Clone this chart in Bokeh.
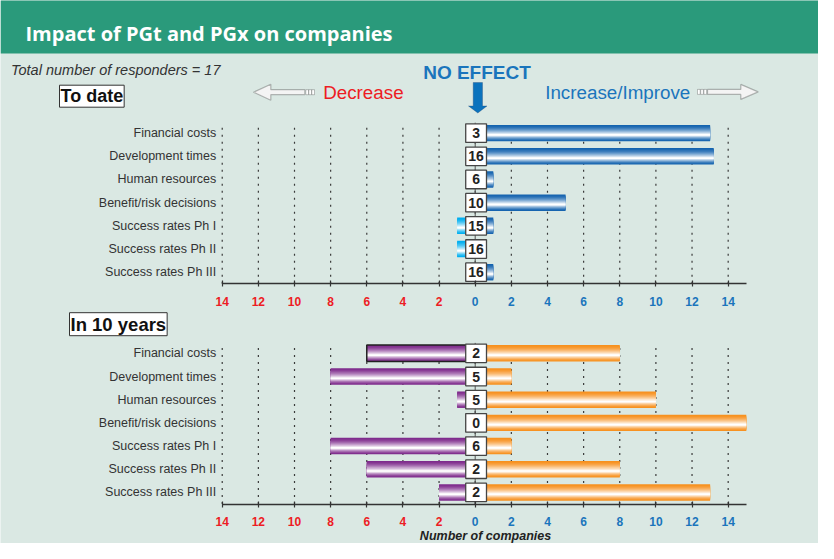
from bokeh.plotting import figure
from bokeh.models import (Range1d, FixedTicker, Label, ColumnDataSource, PolyAnnotation,
                          LinearAxis)
from bokeh.core.properties import value
from bokeh.embed import file_html
from bokeh.resources import INLINE

# ---------------- data ----------------
title = "Impact of PGt and PGx on companies"
responders = 17
categories = ["Financial costs", "Development times", "Human resources",
              "Benefit/risk decisions", "Success rates Ph I", "Success rates Ph II",
              "Success rates Ph III"]
to_date_decrease = [0, 0, 0, 0, -1, -1, 0]
to_date_increase = [13, 13.2, 1, 5, 1, 0, 1]
to_date_no_effect = [3, 16, 6, 10, 15, 16, 16]
in_10_years_decrease = [-6, -8, -1, 0, -8, -6, -2]
in_10_years_increase = [8, 2, 10, 15, 2, 8, 13]
in_10_years_no_effect = [2, 5, 5, 0, 6, 2, 2]
tick_values = [-14, -12, -10, -8, -6, -4, -2, 0, 2, 4, 6, 8, 10, 12, 14]
x_start, x_end = -14, 15

# ---------------- style / geometry ----------------
W, H = 818, 543
S = 18.07          # px per x unit
X0 = 474.7         # px position of x = 0
P = 23.18          # px per row
REF_BOTTOM = 551   # reference-image y of the figure's bottom edge
GREEN = "#2a9a7b"
BG = "#dae8e3"
TXT_BLUE = "#1a75bc"
TXT_RED = "#ed1c24"
DARK = "#333333"
FONT = "Liberation Sans"
NROW = len(categories)
rows = [NROW - i for i in range(NROW)]          # bottom panel rows (7 .. 1)
PANEL_SHIFT = 9.5                               # top panel rows sit 9.5 rows higher
y_lo = 0.5 - 39.5 / P


def sy(ref_y):
    return REF_BOTTOM - ref_y


def mix(c1, c2, t):
    a = [int(c1[i:i + 2], 16) for i in (1, 3, 5)]
    b = [int(c2[i:i + 2], 16) for i in (1, 3, 5)]
    return "#%02x%02x%02x" % tuple(round(x + (y - x) * t) for x, y in zip(a, b))


p = figure(width=W, height=H, x_range=Range1d(-X0 / S, (W - X0) / S),
           y_range=Range1d(y_lo, y_lo + H / P), toolbar_location=None,
           output_backend="svg", min_border=0, min_border_left=0, min_border_right=0,
           min_border_top=0, min_border_bottom=0)
p.background_fill_color = BG
p.border_fill_color = BG
p.outline_line_color = None
p.xgrid.visible = False
p.ygrid.visible = False

# header band (decoration)
p.add_layout(PolyAnnotation(xs=[0, W, W, 0], ys=[H - 53, H - 53, H + 1, H + 1],
                            xs_units="screen", ys_units="screen", fill_color=GREEN,
                            fill_alpha=1, line_color=None))
p.add_layout(Label(x=25, y=H - 33, x_units="screen", y_units="screen", text=title,
                   text_color="white", text_font="Open Sans", text_font_style="bold",
                   text_font_size="20px", text_baseline="middle"))


def gradient_hbars(ys, values, edge, Hb=0.71, N=10):
    for k in range(N):
        f = k / N
        a, b = 0.62 * f, 0.38 * f
        off = (b - a) / 2 * Hb
        t = (k / (N - 1)) ** 1.5
        src = ColumnDataSource(dict(y=[r + off for r in ys], v=values))
        p.hbar(y="y", left=0, right="v", height=Hb * (1 - f),
               fill_color=mix(edge, "#ffffff", t), line_color=None, source=src)


def boxes(ys, counts):
    src = ColumnDataSource(dict(y=ys, n=[str(c) for c in counts]))
    p.rect(x=0.05, y="y", width=1.15, height=0.8, fill_color="white",
           line_color="#454545", line_width=1.3, source=src)
    p.text(x=0.05, y="y", text="n", text_align="center", text_baseline="middle",
           text_font=value(FONT), text_font_style="bold", text_font_size="14px",
           text_color="#222222", source=src)


def panel(ys, xaxis, yaxis, decrease, increase, no_effect, dec_color, inc_color,
          outline_first=False):
    lo, hi = min(ys) - 0.5, max(ys) + 0.5
    n = len(tick_values)
    p.segment(x0=tick_values, y0=[lo] * n, x1=tick_values, y1=[hi - 0.05] * n,
              line_color="#3a3a3a", line_dash="2 5", line_width=1.2)
    p.segment(x0=[0], y0=[lo], x1=[0], y1=[hi - 0.05], line_color="#555555", line_width=1)

    gradient_hbars(ys, decrease, dec_color)
    gradient_hbars(ys, increase, inc_color)
    if outline_first:
        src = ColumnDataSource(dict(y=ys[:1], v=decrease[:1]))
        p.hbar(y="y", left=0, right="v", height=0.71, fill_color=None,
               line_color="#222222", line_width=1.5, source=src)
    boxes(ys, no_effect)

    xaxis.fixed_location = lo
    xaxis.bounds = (x_start, x_end)
    xaxis.ticker = FixedTicker(ticks=tick_values)
    xaxis.major_label_overrides = {t: "" for t in tick_values if t < 0}
    xaxis.axis_line_color = DARK
    xaxis.axis_line_width = 1.3
    xaxis.major_tick_line_color = DARK
    xaxis.major_tick_line_width = 1.2
    xaxis.major_tick_in = 3
    xaxis.major_tick_out = 3
    xaxis.minor_tick_line_color = None
    xaxis.major_label_standoff = 10
    xaxis.major_label_text_color = TXT_BLUE
    xaxis.major_label_text_font = FONT
    xaxis.major_label_text_font_style = "bold"
    xaxis.major_label_text_font_size = "12px"

    neg = [t for t in tick_values if t < 0]
    p.text(x=neg, y=[lo] * len(neg), text=[str(-t) for t in neg], y_offset=13,
           text_align="center", text_baseline="top", text_color=TXT_RED,
           text_font=value(FONT), text_font_style="bold", text_font_size="12px")

    yaxis.fixed_location = x_start
    yaxis.ticker = FixedTicker(ticks=ys)
    yaxis.major_label_overrides = {r: c for r, c in zip(ys, categories)}
    yaxis.axis_line_color = None
    yaxis.major_tick_line_color = None
    yaxis.major_tick_in = 0
    yaxis.major_tick_out = 0
    yaxis.minor_tick_line_color = None
    yaxis.major_label_standoff = 6
    yaxis.major_label_text_font = FONT
    yaxis.major_label_text_font_size = "12.5px"
    yaxis.major_label_text_color = DARK


def poly(pts, fill, line="#222222", lw=1.2):
    p.add_layout(PolyAnnotation(xs=[x - 8 for x, _ in pts], ys=[sy(y) for _, y in pts],
                                xs_units="screen", ys_units="screen",
                                fill_color=fill, fill_alpha=1, line_color=line,
                                line_width=lw))


# ---------------- top panel: To date ----------------
top_rows = [r + PANEL_SHIFT for r in rows]
xaxis_top = LinearAxis()
yaxis_top = LinearAxis()
p.add_layout(xaxis_top, "below")
p.add_layout(yaxis_top, "left")
panel(top_rows, xaxis_top, yaxis_top, to_date_decrease, to_date_increase,
      to_date_no_effect, "#00aeef", "#1463af")

p.add_layout(Label(x=10.5, y=sy(77), x_units="screen", y_units="screen",
                   text="Total number of responders = %d" % responders,
                   text_font=FONT, text_font_style="italic", text_font_size="14.5px",
                   text_color=DARK, text_baseline="middle"))
p.add_layout(Label(x=59, y=sy(103.7), x_units="screen", y_units="screen", text="To date",
                   text_font=FONT, text_font_style="bold", text_font_size="18px",
                   text_color="#111111", text_baseline="middle",
                   background_fill_color="white", border_line_color=DARK,
                   border_line_width=1, padding=1))
p.add_layout(Label(x=476.5, y=sy(80), x_units="screen", y_units="screen",
                   text="NO EFFECT", text_font=FONT, text_font_style="bold",
                   text_font_size="19px", text_color=TXT_BLUE, text_align="center",
                   text_baseline="middle"))
p.add_layout(Label(x=322.7, y=sy(99.5), x_units="screen", y_units="screen",
                   text="Decrease", text_font=FONT, text_font_size="18.8px",
                   text_color=TXT_RED, text_baseline="middle"))
p.add_layout(Label(x=544.7, y=sy(99.5), x_units="screen", y_units="screen",
                   text="Increase/Improve", text_font=FONT, text_font_size="18.8px",
                   text_color=TXT_BLUE, text_baseline="middle"))

# hollow arrows (decoration)
cy = 99.7
poly([(261, cy), (278.3, cy - 8), (278.3, cy - 2.5), (312.3, cy - 2.5),
      (312.3, cy + 2.5), (278.3, cy + 2.5), (278.3, cy + 8)], "#f4f4f4")
for x0 in (313.3, 316.3, 319.3):
    poly([(x0, cy - 2.5), (x0 + 2.7, cy - 2.5), (x0 + 2.7, cy + 2.5), (x0, cy + 2.5)],
         "white", lw=0.9)
cy = 99.4
poly([(765.7, cy), (748.3, cy - 7.5), (748.3, cy - 2.5), (715, cy - 2.5),
      (715, cy + 2.5), (748.3, cy + 2.5), (748.3, cy + 7.5)], "#f4f4f4")
for x0 in (705, 708.2, 711.4):
    poly([(x0, cy - 2.5), (x0 + 2.7, cy - 2.5), (x0 + 2.7, cy + 2.5), (x0, cy + 2.5)],
         "white", lw=0.9)
# blue down arrow
poly([(480.7, 90), (490, 90), (490, 113.5), (494.5, 113.5), (485.3, 120.5),
      (476, 113.5), (480.7, 113.5)], "#0a72bd", line="#1f3d6b", lw=1)

# ---------------- bottom panel: In 10 years ----------------
panel(rows, p.xaxis[0], p.yaxis[0], in_10_years_decrease, in_10_years_increase,
      in_10_years_no_effect, "#7e2b8c", "#f7901e", outline_first=True)

p.add_layout(Label(x=69, y=sy(331.7), x_units="screen", y_units="screen",
                   text="In 10 years", text_font=FONT, text_font_style="bold",
                   text_font_size="18.5px", text_color="#111111", text_baseline="middle",
                   background_fill_color="white", border_line_color=DARK,
                   border_line_width=1, padding=1))
p.add_layout(Label(x=485, y=8, x_units="screen", y_units="screen",
                   text="Number of companies", text_font=FONT,
                   text_font_style="bold italic", text_font_size="12.5px",
                   text_color="#222222", text_align="center", text_baseline="middle"))

open("out.html", "w").write(file_html(p, INLINE))
